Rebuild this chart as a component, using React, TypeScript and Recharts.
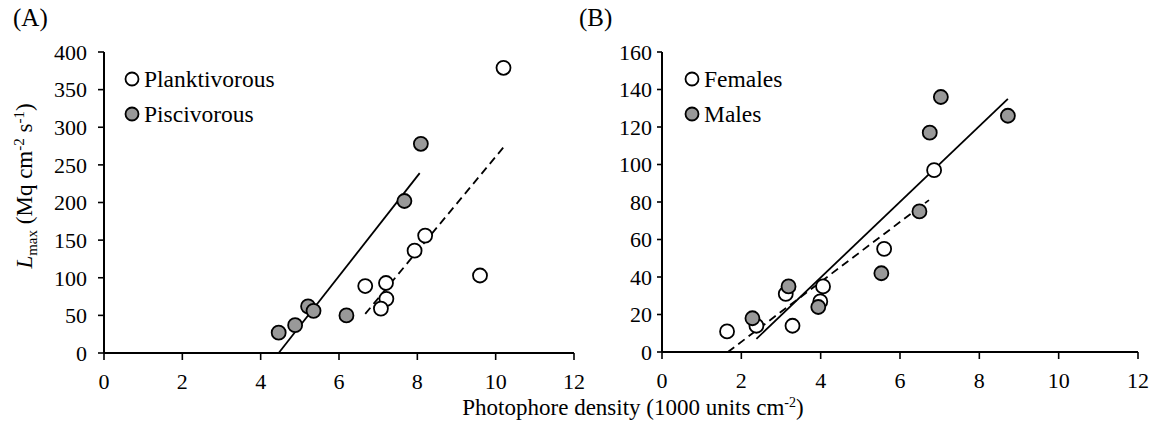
import React from 'react';
import { ScatterChart, Scatter, XAxis, YAxis, ReferenceLine } from 'recharts';

// Panel A: feeding type
const planktivorousX = [10.2, 9.6, 8.2, 7.93, 7.2, 6.67, 7.21, 7.07];
const planktivorousY = [379, 103, 156, 136, 93, 89, 72, 59];
const piscivorousX = [8.09, 7.67, 5.21, 5.35, 4.88, 4.46, 6.19];
const piscivorousY = [278, 202, 62, 56, 37, 27, 50];

// Panel B: sex
const femalesX = [6.86, 5.6, 4.06, 3.99, 3.12, 3.29, 1.64, 2.38];
const femalesY = [97, 55, 35, 27, 31, 14, 11, 14];
const malesX = [7.03, 6.75, 8.72, 6.49, 5.53, 3.19, 3.94, 2.28];
const malesY = [136, 117, 126, 75, 42, 35, 24, 18];

// regression line end points
const fitPiscivorous = [{ x: 4.46, y: 0 }, { x: 8.06, y: 239 }];
const fitPlanktivorous = [{ x: 6.67, y: 52 }, { x: 10.21, y: 274 }];
const fitFemales = [{ x: 2.38, y: 7 }, { x: 8.72, y: 135 }];
const fitMales = [{ x: 1.66, y: 0 }, { x: 6.73, y: 81 }];

const xTicks = [0, 2, 4, 6, 8, 10, 12];
const yTicksA = [0, 50, 100, 150, 200, 250, 300, 350, 400];
const yTicksB = [0, 20, 40, 60, 80, 100, 120, 140, 160];

const FONT = '"Liberation Serif", "DejaVu Serif", serif';
const GREY = '#999999';

const toPoints = (xs: number[], ys: number[]) => xs.map((x, i) => ({ x, y: ys[i] }));

const OpenDot = (p: any) => (
  <circle cx={p.cx} cy={p.cy} r={7} fill="#fff" stroke="#000" strokeWidth={1.8} />
);
const GreyDot = (p: any) => (
  <circle cx={p.cx} cy={p.cy} r={7} fill={GREY} stroke="#000" strokeWidth={1.8} />
);

const tickStyle = { fontSize: 22, fill: '#000', fontFamily: FONT };
const axisStyle = { stroke: '#000', strokeWidth: 2 };
const tickLineStyle = { stroke: '#000', strokeWidth: 1.6 };

interface PanelProps {
  left: number;
  width: number;
  margin: { top: number; right: number; bottom: number; left: number };
  yMax: number;
  yTicks: number[];
  yTickMargin: number;
  yTickSize: number;
  open: { x: number; y: number }[];
  grey: { x: number; y: number }[];
  solid: { x: number; y: number }[];
  dashed: { x: number; y: number }[];
}

const Panel: React.FC<PanelProps> = ({ left, width, margin, yMax, yTicks, yTickMargin, yTickSize, open, grey, solid, dashed }) => (
  <div style={{ position: 'absolute', left, top: 0 }}>
    <ScatterChart width={width} height={427} margin={margin}>
      <XAxis
        type="number"
        dataKey="x"
        domain={[0, 12]}
        ticks={xTicks}
        interval={0}
        height={40}
        tick={tickStyle}
        tickSize={7}
        tickMargin={13}
        axisLine={axisStyle}
        tickLine={tickLineStyle}
      />
      <YAxis
        type="number"
        dataKey="y"
        domain={[0, yMax]}
        ticks={yTicks}
        interval={0}
        width={60}
        tick={tickStyle}
        tickSize={yTickSize}
        tickMargin={yTickMargin}
        axisLine={axisStyle}
        tickLine={tickLineStyle}
      />
      <ReferenceLine segment={solid} stroke="#000" strokeWidth={1.8} />
      <ReferenceLine segment={dashed} stroke="#000" strokeWidth={1.8} strokeDasharray="8 5" />
      <Scatter data={open} shape={OpenDot} isAnimationActive={false} />
      <Scatter data={grey} shape={GreyDot} isAnimationActive={false} />
    </ScatterChart>
  </div>
);

const Legend: React.FC<{ x: number; labels: [string, string] }> = ({ x, labels }) => (
  <g fontFamily={FONT} fontSize={23.5}>
    <circle cx={x} cy={79} r={6.5} fill="#fff" stroke="#000" strokeWidth={1.8} />
    <text x={x + 12} y={87}>{labels[0]}</text>
    <circle cx={x} cy={114} r={6.5} fill={GREY} stroke="#000" strokeWidth={1.8} />
    <text x={x + 12} y={122}>{labels[1]}</text>
  </g>
);

export default function App() {
  return (
    <div style={{ position: 'absolute', left: 0, top: 0, width: 1158, height: 427, background: '#fff' }}>
      <Panel
        left={0}
        width={600}
        margin={{ top: 52, right: 26, bottom: 34, left: 44 }}
        yMax={400}
        yTicks={yTicksA}
        yTickSize={6}
        yTickMargin={11}
        open={toPoints(planktivorousX, planktivorousY)}
        grey={toPoints(piscivorousX, piscivorousY)}
        solid={fitPiscivorous}
        dashed={fitPlanktivorous}
      />
      <Panel
        left={579}
        width={579}
        margin={{ top: 52, right: 20, bottom: 35, left: 23 }}
        yMax={160}
        yTicks={yTicksB}
        yTickSize={5}
        yTickMargin={5}
        open={toPoints(femalesX, femalesY)}
        grey={toPoints(malesX, malesY)}
        solid={fitFemales}
        dashed={fitMales}
      />
      <svg width={1158} height={427} style={{ position: 'absolute', left: 0, top: 0, pointerEvents: 'none' }}>
        <g fontFamily={FONT} fill="#000">
          <text x={13} y={26} fontSize={25}>(A)</text>
          <text x={579} y={26} fontSize={25}>(B)</text>
          <text x={633} y={415} fontSize={23} textAnchor="middle">
            Photophore density (1000 units cm<tspan dy={-8} fontSize={14}>-2</tspan><tspan dy={8}>)</tspan>
          </text>
          <text x={32} y={186} fontSize={23} textAnchor="middle" transform="rotate(-90 32 186)">
            <tspan fontStyle="italic">L</tspan>
            <tspan dy={5} fontSize={15}>max</tspan>
            <tspan dy={-5}> (Mq cm</tspan>
            <tspan dy={-8} fontSize={15}>-2</tspan>
            <tspan dy={8}> s</tspan>
            <tspan dy={-8} fontSize={15}>-1</tspan>
            <tspan dy={8}>)</tspan>
          </text>
        </g>
        <Legend x={132} labels={['Planktivorous', 'Piscivorous']} />
        <Legend x={692} labels={['Females', 'Males']} />
      </svg>
    </div>
  );
}
